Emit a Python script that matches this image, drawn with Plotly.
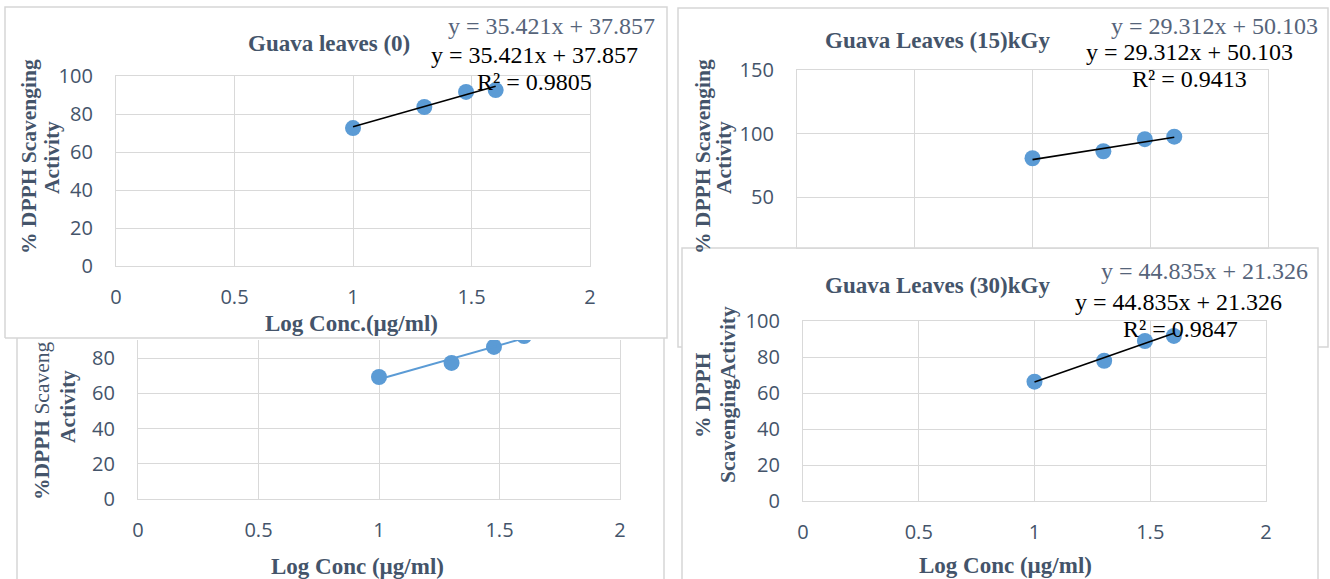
import numpy as np
import plotly.graph_objects as go

W, H = 1330, 579

# ---------------- data ----------------
log_conc = [1.0, 1.301, 1.477, 1.602]
dpph_0 = [72.6, 83.7, 91.6, 92.6]        # Guava leaves (0)
dpph_15 = [80.5, 86.0, 95.5, 97.5]       # Guava Leaves (15)kGy
dpph_rep = [69.3, 77.3, 86.4, 92.6]      # lower-left (partly hidden) chart
dpph_30 = [66.3, 77.9, 88.9, 91.7]       # Guava Leaves (30)kGy

fit_0 = (35.421, 37.857)
fit_15 = (29.312, 50.103)
fit_30 = (44.835, 21.326)
r2_0, r2_15, r2_30 = 0.9805, 0.9413, 0.9847

x_ticks = [0, 0.5, 1, 1.5, 2]
y_ticks_100 = [0, 20, 40, 60, 80, 100]
y_ticks_150 = [0, 50, 100, 150]

titles = ["Guava leaves (0)", "Guava Leaves (15)kGy", "Guava Leaves (30)kGy"]

# ---------------- style ----------------
BLUE = "#5B9BD5"
GRID = "#D9D9D9"
FRAME = "#D6D6D6"
SLATE = "#44546A"
EQGRAY = "#56647A"
SERIF = "Liberation Serif"
TICKFONT = dict(family="Open Sans", size=20, color=SLATE)


def px(x):
    return x / W


def py(y):
    return 1 - y / H


fig = go.Figure()


def add_panel(idx, xs, ys, fit, line_color, line_width):
    sx = "" if idx == 1 else str(idx)
    fig.add_trace(go.Scatter(x=xs, y=ys, mode="markers", xaxis="x" + sx, yaxis="y" + sx,
                             marker=dict(color=BLUE, size=16), showlegend=False))
    lx = [min(xs), max(xs)]
    ly = [fit[0] * v + fit[1] for v in lx]
    fig.add_trace(go.Scatter(x=lx, y=ly, mode="lines", xaxis="x" + sx, yaxis="y" + sx,
                             line=dict(color=line_color, width=line_width), showlegend=False))


rep_fit = tuple(np.polyfit(log_conc, dpph_rep, 1))

add_panel(1, log_conc, dpph_0, fit_0, "black", 1.6)
add_panel(2, log_conc, dpph_15, fit_15, "black", 1.6)
add_panel(3, log_conc, dpph_rep, rep_fit, BLUE, 2)
add_panel(4, log_conc, dpph_30, fit_30, "black", 1.6)


def xax(domain, anchor, show_labels=True, mirror=False):
    return dict(domain=domain, anchor=anchor, range=[0, 2], tickvals=x_ticks,
                showgrid=True, gridcolor=GRID, gridwidth=1.3, zeroline=False,
                showline=True, linecolor=GRID, linewidth=1.3, mirror=mirror,
                ticks="", showticklabels=show_labels, tickfont=TICKFONT,
                ticklabelstandoff=13, automargin=False)


def yax(domain, anchor, rng, ticks, mirror=True):
    return dict(domain=domain, anchor=anchor, range=rng, tickvals=ticks,
                showgrid=True, gridcolor=GRID, gridwidth=1.3, zeroline=False,
                showline=True, linecolor=GRID, linewidth=1.3, mirror=mirror,
                ticks="", tickfont=TICKFONT, ticklabelstandoff=18, automargin=False)


y2_lo = (260.5 - 248) / 1.27
y3_hi = (499 - 340) / 1.76

fig.update_layout(
    template="none",
    width=W, height=H, autosize=False,
    margin=dict(l=0, r=0, t=0, b=0, pad=0, autoexpand=False),
    paper_bgcolor="white", plot_bgcolor="rgba(0,0,0,0)",
    showlegend=False,
    xaxis=xax([px(116), px(590)], "y", mirror=True),
    yaxis=yax([py(266), py(76)], "x", [0, 100], y_ticks_100),
    xaxis2=xax([px(797), px(1268)], "y2", show_labels=False, mirror=True),
    yaxis2=yax([py(248), py(70)], "x2", [y2_lo, 150], y_ticks_150),
    xaxis3=xax([px(138), px(620)], "y3", mirror=False),
    yaxis3=yax([py(499), py(340)], "x3", [0, y3_hi], y_ticks_100),
    xaxis4=xax([px(803), px(1266)], "y4", mirror=True),
    yaxis4=yax([py(501), py(321)], "x4", [0, 100], y_ticks_100),
)

# ---------------- chart frames ----------------
def line_shape(pts):
    path = "M " + " L ".join(f"{px(a):.5f},{py(b):.5f}" for a, b in pts)
    return dict(type="path", xref="paper", yref="paper", path=path,
                line=dict(color=FRAME, width=1.5), layer="below")


shapes = [
    line_shape([(5, 338), (5, 7), (667, 7), (667, 338), (5, 338)]),          # top-left
    line_shape([(17, 338), (17, 590)]),                                     # lower-left
    line_shape([(664, 338), (664, 590)]),
    line_shape([(682, 347), (678, 347), (678, 8), (1328, 8), (1328, 347), (1318, 347)]),  # top-right
    line_shape([(682, 590), (682, 248), (1318, 248), (1318, 590)]),         # lower-right
]
fig.update_layout(shapes=shapes)

# ---------------- texts ----------------
ann = []


def text(x, y, s, size, color, bold=False, angle=0, xanchor="center", yanchor="middle"):
    if bold:
        s = "<b>" + s + "</b>"
    ann.append(dict(x=px(x), y=py(y), xref="paper", yref="paper", text=s, showarrow=False,
                    textangle=angle, xanchor=xanchor, yanchor=yanchor,
                    font=dict(family=SERIF, size=size, color=color)))


def eq(fit):
    return f"y = {fit[0]:.3f}x + {fit[1]:.3f}"


# titles
text(329, 43, titles[0], 23, SLATE, bold=True)
text(937, 41, titles[1], 23, SLATE, bold=True)
text(937, 285, titles[2], 23, SLATE, bold=True)

# equations panel 1
text(551, 26, eq(fit_0), 24, EQGRAY)
text(534, 55, eq(fit_0), 24, "black")
text(534, 82, f"R² = {r2_0}", 24, "black")
# panel 2
text(1214, 26, eq(fit_15), 24, EQGRAY)
text(1189, 52, eq(fit_15), 24, "black")
text(1189, 79, f"R² = {r2_15}", 24, "black")
# panel 4
text(1204, 271, eq(fit_30), 24, EQGRAY)
text(1178, 302, eq(fit_30), 24, "black")
text(1180, 329, f"R² = {r2_30}", 24, "black")

# x axis titles
text(352, 323, "Log Conc.(µg/ml)", 23, SLATE, bold=True)
text(357, 566, "Log Conc (µg/ml)", 23, SLATE, bold=True)
text(1005, 565, "Log Conc (µg/ml)", 23, SLATE, bold=True)

# y axis titles
text(29, 157, "% DPPH Scavenging", 21.5, SLATE, bold=True, angle=-90)
text(52, 158, "Activity", 21.5, SLATE, bold=True, angle=-90)
text(703, 157, "% DPPH Scavenging", 21.5, SLATE, bold=True, angle=-90)
text(724, 157, "Activity", 21.5, SLATE, bold=True, angle=-90)
text(42, 502, "<b>%DPPH</b> Scaveng", 21.5, SLATE, angle=-90, yanchor="bottom")
text(68, 407, "Activity", 21.5, SLATE, bold=True, angle=-90)
text(703, 395, "% DPPH", 21.5, SLATE, bold=True, angle=-90)
text(728, 395, "ScavengingActivity", 21.5, SLATE, bold=True, angle=-90)

fig.update_layout(annotations=ann)

fig.write_html("out.html", config={"displayModeBar": False},
               post_script="document.body.style.margin='0';document.body.style.overflow='hidden';")
